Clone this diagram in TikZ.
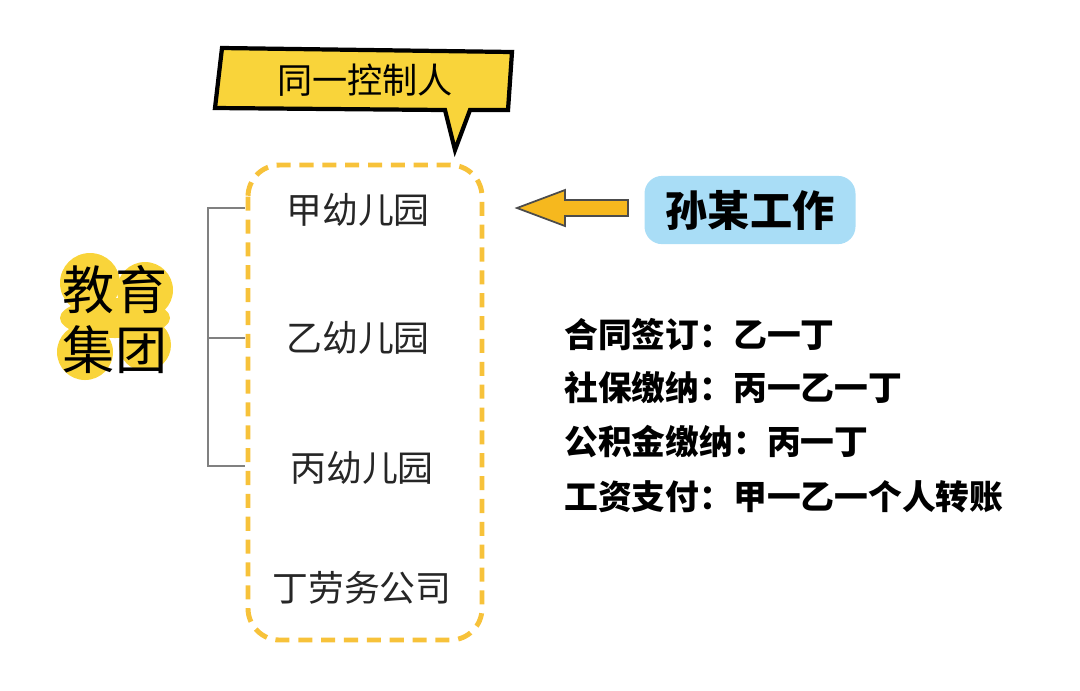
\documentclass[tikz,border=0pt]{standalone}
\usepackage{fontspec}
\usetikzlibrary{arrows.meta, positioning}
\newfontfamily\cjk{Noto Sans CJK SC}
\newfontfamily\cjkb{Noto Sans CJK SC Black}
\definecolor{hlyellow}{HTML}{F9D43A}
\definecolor{dashyellow}{HTML}{F7C23A}
\definecolor{arroworange}{HTML}{F6B81E}
\definecolor{boxblue}{HTML}{A9DDF6}
\tikzset{
    kinder/.style={font=\cjk\fontsize{10.2}{10.2}\selectfont, text=black!85},
    rule/.style={font=\cjkb\fontsize{9.6}{9.6}\selectfont, anchor=west},
}
\begin{document}
\begin{tikzpicture}[x=0.01cm,y=-0.01cm]
    \useasboundingbox (0,0) rectangle (1080,690);
    % speech bubble
    \fill[hlyellow,draw=black,line width=1.2pt]
        (222,48) -- (512,52) -- (508,110) -- (470,110) -- (455,150) -- (445,110) -- (215,108) -- cycle;
    \node[font=\cjk\fontsize{10}{10}\selectfont] (ctrl) at (365,80) {同一控制人};
    % dashed group frame
    \draw[dashyellow,line width=1.4pt,dash pattern=on 4pt off 2.5pt,rounded corners=9pt]
        (248,165) rectangle (482,640);
    \node[kinder] (jia) at (358,210) {甲幼儿园};
    \node[kinder] (yi) at (358,338) {乙幼儿园};
    \node[kinder] (bing) at (362,468) {丙幼儿园};
    \node[kinder] (ding) at (362,588) {丁劳务公司};
    % bracket
    \coordinate (b1) at (208,208);
    \coordinate (b2) at (208,338);
    \coordinate (b3) at (208,466);
    \draw[gray,line width=0.6pt] (245,208) -- (b1) -- (b3) -- (245,466);
    \draw[gray,line width=0.6pt] (b2) -- (245,338);
    % group label
    \fill[hlyellow] (90,283) circle (30);
    \fill[hlyellow] (145,290) circle (28);
    \fill[hlyellow] (85,352) circle (28);
    \fill[hlyellow] (145,345) circle (26);
    \fill[hlyellow] (115,318) ellipse (55 and 20);
    \node[font=\cjk\fontsize{14.8}{14.8}\selectfont] (edu1) at (115,290) {教育};
    \node[font=\cjk\fontsize{14.8}{14.8}\selectfont] (edu2) at (115,350) {集团};
    % work arrow
    \node[fill=boxblue,rounded corners=5pt,inner xsep=6pt,inner ysep=4pt,
          font=\cjkb\fontsize{12}{12}\selectfont] (work) at (750,210) {孙某工作};
    \fill[arroworange,draw=black!70,line width=0.5pt]
        (628,200) -- (565,200) -- (565,190) -- (517,208) -- (565,226) -- (565,216) -- (628,216) -- cycle;
    % rules
    \node[rule] (r1) at (552,335) {合同签订：乙一丁};
    \node[rule] (r2) at (552,388) {社保缴纳：丙一乙一丁};
    \node[rule] (r3) at (552,442) {公积金缴纳：丙一丁};
    \node[rule] (r4) at (552,497) {工资支付：甲一乙一个人转账};
\end{tikzpicture}
\end{document}
